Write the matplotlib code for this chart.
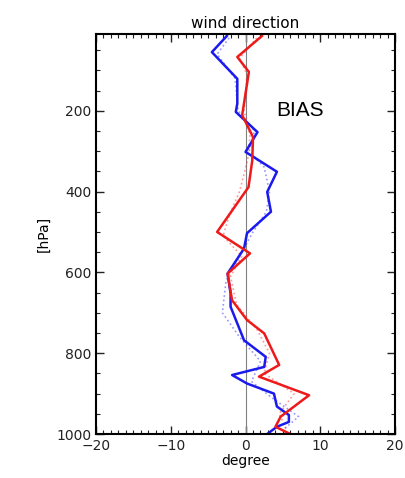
import numpy as np
import matplotlib
matplotlib.use("Agg")
from matplotlib import pyplot as plt
from matplotlib.ticker import MultipleLocator

# pressure levels [hPa] and bias [degree]
p_blue = [15, 55, 121, 182, 203, 253, 302, 351, 401, 450, 503, 541, 603, 652, 685, 768, 809, 834, 854, 875, 900, 932, 953, 970, 982, 1000]
blue = [-2.5, -4.5, -1.1, -1.1, -1.3, 1.6, 0.0, 4.2, 2.9, 3.4, 0.2, -0.2, -2.4, -2.0, -2.0, -0.2, 2.7, 2.5, -1.8, 0.2, 3.8, 4.2, 5.8, 5.8, 4.2, 2.9]

p_red = [15, 67, 104, 211, 265, 323, 389, 500, 553, 603, 669, 718, 751, 829, 858, 904, 957, 982, 1000]
red = [2.2, -1.1, 0.45, -0.45, 1.0, 0.9, 0.4, -3.8, 0.6, -2.4, -1.8, 0.2, 2.5, 4.5, 1.8, 8.5, 4.7, 4.0, 6.0]

p_blue_dot = [20, 60, 120, 200, 250, 300, 340, 400, 450, 500, 560, 620, 700, 760, 820, 870, 910, 957, 990]
blue_dot = [-2.2, -3.8, -1.4, -1.0, 1.2, 0.5, 2.5, 3.2, 2.8, 1.0, -0.8, -2.6, -3.1, -0.8, 2.0, 0.8, 3.5, 7.1, 5.0]

p_red_dot = [20, 70, 110, 200, 260, 320, 400, 460, 510, 560, 610, 680, 740, 800, 850, 900, 950, 990]
red_dot = [1.5, -0.8, 0.2, -0.2, 0.6, 0.3, -0.8, -2.2, -3.0, -0.5, -2.0, -1.2, 1.5, 3.2, 2.5, 6.5, 4.5, 5.5]

fig = plt.figure(figsize=(4.06, 4.78), dpi=100)
ax = fig.add_axes([0.2365, 0.092, 0.7365, 0.837])

ax.axvline(0, color='grey', lw=0.8)
ax.plot(blue_dot, p_blue_dot, color='#3030ff', ls=':', lw=1.2, alpha=0.5)
ax.plot(red_dot, p_red_dot, color='#ff3030', ls=':', lw=1.2, alpha=0.5)
ax.plot(blue, p_blue, color='#1a1aee', lw=1.8)
ax.plot(red, p_red, color='#ee1a1a', lw=1.8)

ax.set_xlim(-20, 20)
ax.set_ylim(1000, 10)
ax.set_xticks([-20, -10, 0, 10, 20])
ax.set_yticks([200, 400, 600, 800, 1000])
ax.xaxis.set_minor_locator(MultipleLocator(1))
ax.yaxis.set_minor_locator(MultipleLocator(50))
ax.tick_params(which='both', direction='in', top=True, right=True, labelsize=10, colors='#222222')
ax.tick_params(which='major', length=6, width=1)
ax.tick_params(which='minor', length=3, width=0.8)
for s in ax.spines.values():
    s.set_linewidth(1.5)

ax.set_title('wind direction', fontsize=11, pad=4)
ax.set_xlabel('degree', fontsize=10, labelpad=1)
ax.set_ylabel('[hPa]', fontsize=10, labelpad=4)
ax.text(4.1, 199, 'BIAS', fontsize=15, family='Liberation Sans', va='center')

fig.savefig('out.png', dpi=100)
